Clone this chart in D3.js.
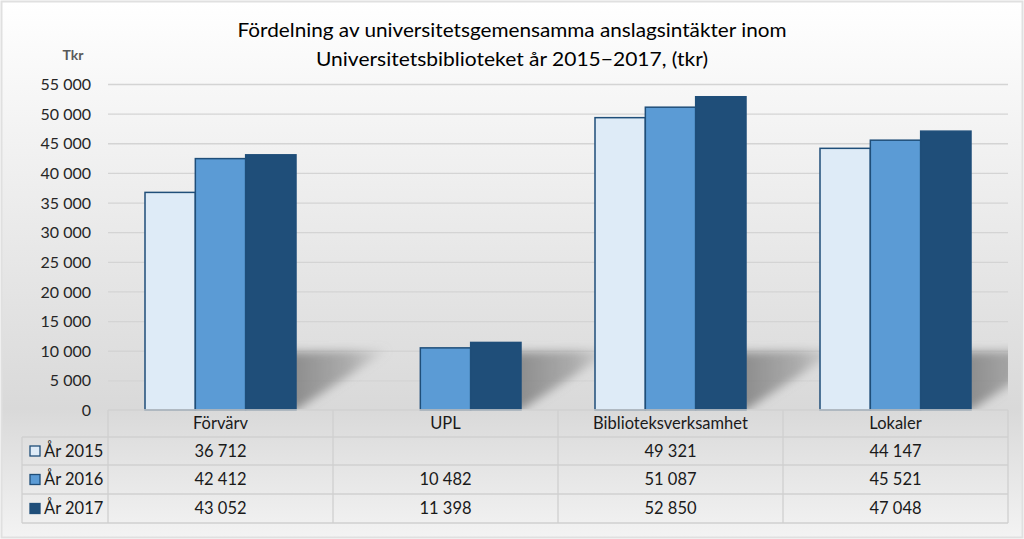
<!DOCTYPE html>
<html><head><meta charset="utf-8">
<script src="https://cdn.jsdelivr.net/npm/d3@7"></script>
<style>html,body{margin:0;padding:0;background:#fff;}svg{display:block;}</style>
</head><body>
<svg id="c" width="1024" height="539"></svg>
<script>
const categories = ["Förvärv", "UPL", "Biblioteksverksamhet", "Lokaler"];
const seriesNames = ["År 2015", "År 2016", "År 2017"];
const values2015 = [36712, null, 49321, 44147];
const values2016 = [42412, 10482, 51087, 45521];
const values2017 = [43052, 11398, 52850, 47048];
const yTicks = [0, 5000, 10000, 15000, 20000, 25000, 30000, 35000, 40000, 45000, 50000, 55000];
const titleLines = ["Fördelning av universitetsgemensamma anslagsintäkter inom", "Universitetsbiblioteket år 2015\u22122017, (tkr)"];
const yAxisTitle = "Tkr";

const seriesValues = [values2015, values2016, values2017];
const fills = ["#deebf7", "#5b9bd5", "#1f4e79"];
const strokes = ["#1f4e79", "#1f4e79", "#1f4e79"];

const svg = d3.select("#c");
const W = 1024, H = 539;
const plot = {l:108, r:1008, t:84, b:410};
const font = "Lato, 'Liberation Sans', Arial, sans-serif";

const defs = svg.append("defs");
const bg = defs.append("linearGradient").attr("id","bg").attr("x1",0).attr("y1",0).attr("x2",0).attr("y2",1);
[[0,"#ffffff"],[0.18,"#f6f6f6"],[0.76,"#d9d9d9"],[1,"#f3f3f3"]].forEach(s=>bg.append("stop").attr("offset",s[0]).attr("stop-color",s[1]));
defs.append("filter").attr("id","blur").attr("x","-50%").attr("y","-50%").attr("width","200%").attr("height","200%")
  .append("feGaussianBlur").attr("stdDeviation",5);
const sg = defs.append("linearGradient").attr("id","sh").attr("x1",0).attr("y1",0).attr("x2",1).attr("y2",0);
[[0,"#7a7a7a",0.85],[0.6,"#8a8a8a",0.6],[1,"#9a9a9a",0.1]].forEach(s=>sg.append("stop").attr("offset",s[0]).attr("stop-color",s[1]).attr("stop-opacity",s[2]));
defs.append("clipPath").attr("id","plotclip").append("rect")
  .attr("x",plot.l).attr("y",plot.t-20).attr("width",plot.r-plot.l).attr("height",plot.b-plot.t+20);

svg.append("rect").attr("x",1.5).attr("y",1.5).attr("width",W-3).attr("height",H-3)
  .attr("fill","url(#bg)").attr("stroke","#e0e0e0").attr("stroke-width",2);

const x = d3.scaleBand().domain(categories).range([plot.l, plot.r]);
const xs = d3.scaleBand().domain(seriesNames).range([37, x.bandwidth()-37]);
const y = d3.scaleLinear().domain([0,55000]).range([plot.b, plot.t]);

const loc = d3.formatLocale({decimal:",", thousands:" ", grouping:[3], currency:["",""]});
const fmt = loc.format(",d");

// gridlines
const yAxis = d3.axisLeft(y).tickValues(yTicks).tickSize(-(plot.r-plot.l)).tickFormat(fmt).tickPadding(17);
const gy = svg.append("g").attr("transform",`translate(${plot.l},0)`).call(yAxis);
gy.select(".domain").remove();
gy.selectAll(".tick line").attr("stroke","#d4d4d4").attr("stroke-width",1.3)
  .filter(d=>d===0).remove();
gy.selectAll(".tick text").attr("font-family",font).attr("font-size",16).attr("fill","#262626").attr("dy","0.35em");

// shadows
const shadowG = svg.append("g").attr("clip-path","url(#plotclip)");
categories.forEach((c,i)=>{
  const gr = x(c) + xs.range()[1];
  shadowG.append("path")
    .attr("d",`M${gr-8},${y(0)-58} L${gr+92},${y(0)-60} L${gr},${y(0)} L${gr-8},${y(0)} Z`)
    .attr("fill","url(#sh)").attr("filter","url(#blur)");
});

// bars
seriesNames.forEach((s,si)=>{
  svg.append("g").selectAll("rect").data(categories.map((c,i)=>({c, v:seriesValues[si][i]})).filter(d=>d.v!=null))
    .join("rect")
    .attr("x",d=>x(d.c)+xs(s))
    .attr("width",xs.bandwidth())
    .attr("y",d=>y(d.v))
    .attr("height",d=>y(0)-y(d.v))
    .attr("fill",fills[si])
    .attr("stroke",strokes[si]).attr("stroke-width",1.5);
});

// title
titleLines.forEach((t,i)=>{
  svg.append("text").attr("x",512).attr("y",[37,66][i]).attr("text-anchor","middle")
    .attr("font-family",font).attr("font-size",20).attr("fill","#000")
    .attr("textLength",[549,392][i]).attr("lengthAdjust","spacingAndGlyphs").text(t);
});
svg.append("text").attr("x",73).attr("y",60).attr("text-anchor","middle")
  .attr("font-family",font).attr("font-size",14).attr("font-weight","bold").attr("fill","#595959").text(yAxisTitle);

// data table
const rowsY = [410, 437, 465, 494, 523];
const legL = 22;
const tg = svg.append("g");
const lc = "#d0d0d0";
tg.append("line").attr("x1",plot.l).attr("x2",plot.r).attr("y1",rowsY[0]).attr("y2",rowsY[0]).attr("stroke",lc).attr("stroke-width",1.3);
rowsY.slice(1).forEach(yy=>tg.append("line").attr("x1",legL).attr("x2",plot.r).attr("y1",yy).attr("y2",yy).attr("stroke",lc).attr("stroke-width",1.3));
tg.append("line").attr("x1",legL).attr("x2",legL).attr("y1",rowsY[1]).attr("y2",rowsY[4]).attr("stroke",lc).attr("stroke-width",1.3);
[plot.l, ...categories.map(c=>x(c)+x.bandwidth())].forEach(xx=>
  tg.append("line").attr("x1",xx).attr("x2",xx).attr("y1",rowsY[0]).attr("y2",rowsY[4]).attr("stroke",lc).attr("stroke-width",1.3));
categories.forEach(c=>tg.append("text").attr("x",x(c)+x.bandwidth()/2).attr("y",(rowsY[0]+rowsY[1])/2).attr("dy","0.35em")
  .attr("text-anchor","middle").attr("font-family",font).attr("font-size",16.5).attr("fill","#1a1a1a").text(c));
seriesNames.forEach((s,si)=>{
  const cy = (rowsY[si+1]+rowsY[si+2])/2;
  tg.append("rect").attr("x",30).attr("y",cy-5).attr("width",10).attr("height",10)
    .attr("fill",fills[si]).attr("stroke",strokes[si]).attr("stroke-width",1.3);
  tg.append("text").attr("x",44).attr("y",cy).attr("dy","0.35em").attr("font-family",font).attr("font-size",16.5).attr("fill","#1a1a1a").text(s);
  categories.forEach((c,ci)=>{
    const v = seriesValues[si][ci];
    if(v==null) return;
    tg.append("text").attr("x",x(c)+x.bandwidth()/2).attr("y",cy).attr("dy","0.35em")
      .attr("text-anchor","middle").attr("font-family",font).attr("font-size",16.5).attr("fill","#1a1a1a").text(fmt(v));
  });
});
</script>
</body></html>
